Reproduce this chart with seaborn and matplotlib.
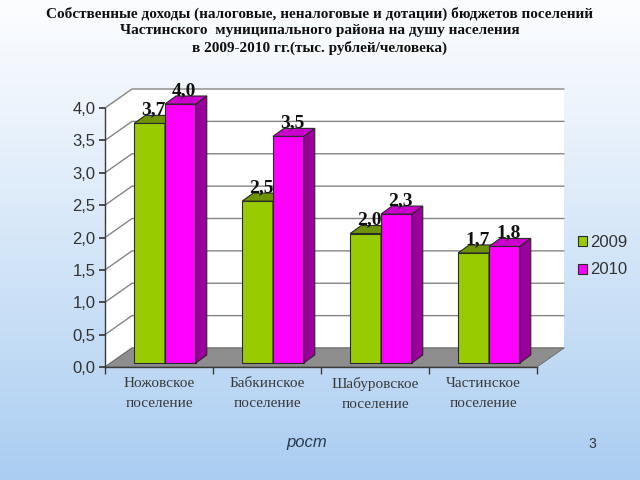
import numpy as np
import pandas as pd
import matplotlib
matplotlib.use("Agg")
import matplotlib.pyplot as plt
import matplotlib.transforms as mtrans
from matplotlib.patches import Polygon
from matplotlib.lines import Line2D
import seaborn as sns

# ---------------- data ----------------
categories = ["Ножовское\nпоселение", "Бабкинское\nпоселение",
              "Шабуровское\nпоселение", "Частинское\nпоселение"]
years = ["2009", "2010"]
values_2009 = [3.7, 2.5, 2.0, 1.7]
values_2010 = [4.0, 3.5, 2.3, 1.8]
yticks = [0.0, 0.5, 1.0, 1.5, 2.0, 2.5, 3.0, 3.5, 4.0]
ytick_labels = ["0,0", "0,5", "1,0", "1,5", "2,0", "2,5", "3,0", "3,5", "4,0"]
title = ("Собственные доходы (налоговые, неналоговые и дотации) бюджетов поселений\n"
         "Частинского  муниципального района на душу населения\n"
         "в 2009-2010 гг.(тыс. рублей/человека)")

df = pd.DataFrame({
    "category": categories * 2,
    "year": [years[0]] * 4 + [years[1]] * 4,
    "value": values_2009 + values_2010,
})

sns.set_theme(style="white")
plt.rcParams["font.family"] = ["Liberation Sans", "DejaVu Sans"]

front_cols = ["#99CC00", "#FF00FF"]
top_cols = ["#6E9400", "#CC00CC"]
side_cols = ["#7FA800", "#990099"]
edge = "#2a2a2a"

DPI = 100
fig = plt.figure(figsize=(6.4, 4.8), dpi=DPI)

# background gradient
bg = fig.add_axes([0, 0, 1, 1], zorder=-5)
t = np.linspace(0, 1, 256)[:, None]
top_c = np.array([252, 253, 255]) / 255
bot_c = np.array([170, 205, 241]) / 255
grad = top_c + (bot_c - top_c) * (t ** 1.1)
img = np.repeat(grad[:, None, :], 2, axis=1)
bg.imshow(img, aspect="auto", extent=[0, 1, 0, 1], origin="upper")
bg.set_axis_off()

ax = fig.add_axes([105 / 640, 113 / 480, 432 / 640, 259 / 480])
ax.patch.set_alpha(0)

sns.barplot(data=df, x="category", y="value", hue="year", order=categories,
            hue_order=years, palette=front_cols, width=0.57, edgecolor=edge,
            linewidth=0.8, saturation=1, ax=ax, legend=True)
ax.set_xlim(-0.5, 3.5)
ax.set_ylim(0, 4)

ident = mtrans.IdentityTransform()
BDX, BDY = 27, 19      # back-plane offset (px)
FDX, FDY = 6, 4        # bar front plane offset
DDX, DDY = 11, 8       # bar depth

(x0, y0) = ax.transData.transform((-0.5, 0))
(x1, y4) = ax.transData.transform((3.5, 4))

# back wall
ax.add_patch(Polygon([(x0 + BDX, y0 + BDY), (x1 + BDX, y0 + BDY),
                      (x1 + BDX, y4 + BDY), (x0 + BDX, y4 + BDY)],
                     closed=True, transform=ident, facecolor="white",
                     edgecolor="none", zorder=0.1, clip_on=False))
# left wall
ax.add_patch(Polygon([(x0, y0), (x0, y4), (x0 + BDX, y4 + BDY), (x0 + BDX, y0 + BDY)],
                     closed=True, transform=ident, facecolor="white",
                     edgecolor="none", zorder=0.1, clip_on=False))
# gridlines
for yv in yticks:
    _, py = ax.transData.transform((-0.5, yv))
    ax.add_line(Line2D([x0, x0 + BDX, x1 + BDX], [py, py + BDY, py + BDY],
                       transform=ident, color="#858585", lw=1.0, zorder=0.2,
                       clip_on=False))
# floor
ax.add_patch(Polygon([(x0, y0), (x1, y0), (x1 + BDX, y0 + BDY), (x0 + BDX, y0 + BDY)],
                     closed=True, transform=ident, facecolor="#8e8e8e",
                     edgecolor="#6a6a6a", lw=0.6, zorder=0.3, clip_on=False))

front_tr = ax.transData + mtrans.ScaledTranslation(FDX / DPI, FDY / DPI, fig.dpi_scale_trans)
for k, cont in enumerate(ax.containers):
    for c, bar in enumerate(cont):
        z = 3 + (c * 2 + k) * 0.1
        bar.set_transform(front_tr)
        bar.set_zorder(z)
        bar.set_clip_on(False)
        bx, bw, bh = bar.get_x(), bar.get_width(), bar.get_height()
        (px0, py0) = ax.transData.transform((bx, 0))
        (px1, py1) = ax.transData.transform((bx + bw, bh))
        px0 += FDX; px1 += FDX; py0 += FDY; py1 += FDY
        ax.add_patch(Polygon([(px1, py0), (px1 + DDX, py0 + DDY),
                              (px1 + DDX, py1 + DDY), (px1, py1)], closed=True,
                             transform=ident, facecolor=side_cols[k], edgecolor=edge,
                             lw=0.8, zorder=z + 0.01, clip_on=False))
        ax.add_patch(Polygon([(px0, py1), (px0 + DDX, py1 + DDY),
                              (px1 + DDX, py1 + DDY), (px1, py1)], closed=True,
                             transform=ident, facecolor=top_cols[k], edgecolor=edge,
                             lw=0.8, zorder=z + 0.01, clip_on=False))
        ax.annotate(f"{bh:.1f}".replace(".", ","), xy=(bx + bw / 2, bh),
                    xytext=(10, 13), textcoords="offset pixels", ha="center",
                    va="baseline", fontsize=14, fontweight="bold",
                    family=["Liberation Serif", "DejaVu Serif"], color="#111111",
                    zorder=10, annotation_clip=False)

# axes styling
for s in ["top", "right"]:
    ax.spines[s].set_visible(False)
for s in ["left", "bottom"]:
    ax.spines[s].set_color("#3a3a3a")
    ax.spines[s].set_linewidth(1.0)
    ax.spines[s].set_zorder(5)
ax.set_yticks(yticks)
ax.set_yticklabels(ytick_labels)
ax.set_xticks(range(len(categories)))
ax.set_xticklabels(categories, family=["Liberation Serif", "DejaVu Serif"],
                   fontsize=11, color="#3a3a3a", linespacing=1.7)
ax.set_xticks([-0.5, 0.5, 1.5, 2.5, 3.5], minor=True)
ax.tick_params(axis="x", which="major", length=0, pad=7)
ax.tick_params(axis="x", which="minor", length=5, direction="out", color="#3a3a3a",
               bottom=True)
ax.tick_params(axis="y", length=4, direction="out", color="#3a3a3a", left=True,
               labelsize=12, labelcolor="#333333", pad=3)
ax.set_xlabel("")
ax.set_ylabel("")
ax.grid(False)

# legend
sns.move_legend(ax, loc="upper left", bbox_to_anchor=(563 / 640, 1 - 220 / 480),
                bbox_transform=fig.transFigure, frameon=False, title=None,
                fontsize=12, handlelength=0.55, handleheight=0.55,
                handletextpad=0.2, labelspacing=0.75)
for h in ax.get_legend().legend_handles:
    h.set_edgecolor(edge)
    h.set_linewidth(0.8)
for tx in ax.get_legend().get_texts():
    tx.set_color("#333333")

fig.text(0.5, 1 - 7 / 480, title, ha="center", va="top", fontsize=11,
         fontweight="bold", family=["Liberation Serif", "DejaVu Serif"],
         color="#111111", linespacing=1.3)
fig.text(307 / 640, 1 - 443 / 480, "рост", ha="center", va="center", fontsize=12,
         style="italic", color="#2b3a52")
fig.text(592 / 640, 1 - 444 / 480, "3", ha="center", va="center", fontsize=10,
         color="#333333")

fig.savefig("out.png", dpi=DPI)
